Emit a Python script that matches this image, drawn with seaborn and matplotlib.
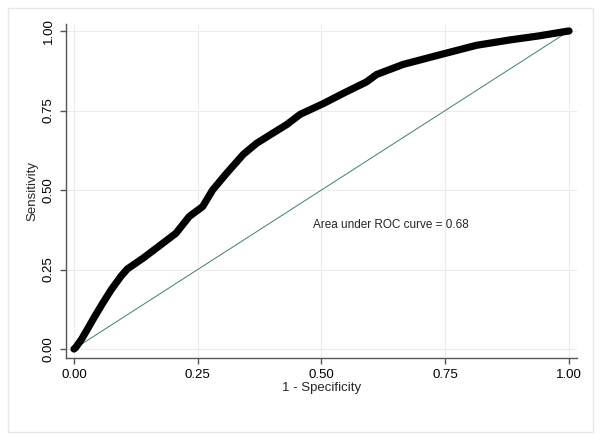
import matplotlib
matplotlib.use("Agg")
import matplotlib.pyplot as plt
import seaborn as sns
import pandas as pd
from matplotlib.patches import Rectangle

# Data
fpr = [0.0, 0.003, 0.015, 0.03, 0.041, 0.058, 0.075, 0.095, 0.108, 0.139, 0.179,
       0.206, 0.233, 0.26, 0.28, 0.308, 0.342, 0.369, 0.403, 0.43, 0.457, 0.504,
       0.544, 0.591, 0.611, 0.665, 0.746, 0.813, 0.881, 0.941, 0.995, 1.0]
tpr = [0.0, 0.004, 0.03, 0.07, 0.10, 0.144, 0.186, 0.229, 0.252, 0.285, 0.332,
       0.364, 0.417, 0.448, 0.50, 0.552, 0.612, 0.647, 0.680, 0.706, 0.738, 0.772,
       0.804, 0.840, 0.863, 0.895, 0.928, 0.955, 0.972, 0.985, 0.999, 1.0]
diag = [0.0, 1.0]
ticks = [0.0, 0.25, 0.5, 0.75, 1.0]
tick_labels = ["0.00", "0.25", "0.50", "0.75", "1.00"]
auc_text = "Area under ROC curve = 0.68"

sns.set_style("white")
plt.rcParams["font.family"] = ["Liberation Sans", "DejaVu Sans"]

W, H = 601, 441
fig = plt.figure(figsize=(W / 100, H / 100), dpi=100)
fig.patch.set_facecolor("white")
fig.patches.append(Rectangle((8 / W, 1 - 432 / H), (593 - 8) / W, (432 - 8) / H,
                             transform=fig.transFigure, fill=False,
                             edgecolor="#e8e8e8", linewidth=1.0))

ax = fig.add_axes([66 / W, (H - 358) / H, (577 - 66) / W, (358 - 24) / H])
ax.set_facecolor("white")

df = pd.DataFrame({"fpr": fpr, "tpr": tpr})
ddf = pd.DataFrame({"x": diag, "y": diag})

sns.lineplot(data=ddf, x="x", y="y", ax=ax, color="#3f7f72", linewidth=0.7,
             estimator=None, sort=False, zorder=2)
sns.lineplot(data=df, x="fpr", y="tpr", ax=ax, color="black", linewidth=5.2,
             estimator=None, sort=False, solid_capstyle="round",
             solid_joinstyle="round", zorder=3)

ax.set_xlim(-8 / 495, 1 + 8 / 495)
ax.set_ylim(-9 / 318, 1 + 7 / 318)
ax.set_xticks(ticks)
ax.set_yticks(ticks)
ax.set_xticklabels(tick_labels, fontsize=9.5)
ax.set_yticklabels(tick_labels, fontsize=9.5, rotation=90, va="center")
ax.grid(True, color="#ececec", linewidth=0.8)
ax.set_axisbelow(True)

for s in ["top", "right"]:
    ax.spines[s].set_visible(False)
for s in ["left", "bottom"]:
    ax.spines[s].set_color("#555555")
    ax.spines[s].set_linewidth(1.0)
ax.tick_params(axis="both", direction="out", length=4, width=1,
               color="#555555", pad=4, labelcolor="black")
ax.tick_params(left=True, bottom=True)

ax.set_xlabel("1 - Specificity", fontsize=9.5, labelpad=1)
ax.set_ylabel("Sensitivity", fontsize=9.5, labelpad=3)

ax.text(0.483, 0.39, auc_text, fontsize=8.5, va="center", ha="left")

fig.savefig("out.png", dpi=100)
